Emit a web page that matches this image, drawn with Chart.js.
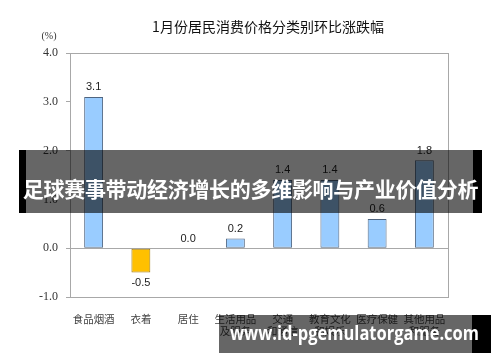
<!DOCTYPE html>
<html lang="zh">
<head>
  <meta charset="UTF-8" />
  <title>1月份居民消费价格分类别环比涨跌幅</title>
  <script src="https://cdn.jsdelivr.net/npm/chart.js"></script>
  <style>
    html, body { margin: 0; padding: 0; background: #fff; }
    #wrap { position: relative; width: 500px; height: 362px; overflow: hidden; }
    .banner { position: absolute; color: #fff; font-weight: bold; white-space: nowrap; text-align: center; }
    #banner-main {
      left: 19px; top: 150px; width: 463px; height: 63px; line-height: 76px;
      font-family: "Noto Sans CJK SC", sans-serif; font-size: 21px; letter-spacing: -0.3px;
      background: linear-gradient(to right, #000 0, #000 7px, rgba(0,0,0,0.6) 7px, rgba(0,0,0,0.6) 454px, #000 454px);
    }
    #banner-site {
      left: 219px; top: 315px; width: 272px; height: 38px; line-height: 36px;
      font-family: "Open Sans", "DejaVu Sans", sans-serif; font-size: 19px;
      text-align: left; padding-left: 11px; box-sizing: border-box;
      background: linear-gradient(to right, rgba(0,0,0,0.6) 0, rgba(0,0,0,0.6) 253px, #000 253px);
    }
    #banner-site span { display: inline-block; transform-origin: left center; }
  </style>
</head>
<body>
  <div id="wrap">
    <canvas id="chart" width="500" height="362"></canvas>
    <div class="banner" id="banner-main">足球赛事带动经济增长的多维影响与产业价值分析</div>
    <div class="banner" id="banner-site"><span>www.id-pgemulatorgame.com</span></div>
  </div>
  <script>
    const categories = [
      '食品烟酒', '衣着', '居住', ['生活用品', '及服务'], ['交通', '和通信'],
      ['教育文化', '和娱乐'], '医疗保健', ['其他用品', '和服务']
    ];
    const changes = [3.1, -0.5, 0.0, 0.2, 1.4, 1.4, 0.6, 1.8];
    const yTicks = [-1, 0, 1, 2, 3, 4];
    const chartTitle = '1月份居民消费价格分类别环比涨跌幅';
    const unitLabel = '(%)';

    // squeeze the site text so it spans the same width as in the picture
    const site = document.querySelector('#banner-site span');
    const w = site.getBoundingClientRect().width;
    site.style.transform = 'scaleX(' + (249 / w) + ')';

    const extras = {
      id: 'extras',
      beforeDatasetsDraw(chart) {
        const { ctx, chartArea: a, scales: { y } } = chart;
        ctx.save();
        ctx.strokeStyle = '#a8a8a8';
        ctx.lineWidth = 1;
        ctx.strokeRect(a.left + 0.5, a.top + 0.5, a.right - a.left, a.bottom - a.top);
        const y0 = Math.round(y.getPixelForValue(0)) + 0.5;
        ctx.beginPath();
        ctx.moveTo(a.left, y0);
        ctx.lineTo(a.right, y0);
        ctx.stroke();
        ctx.restore();
      },
      afterDatasetsDraw(chart) {
        const { ctx } = chart;
        const meta = chart.getDatasetMeta(0);
        ctx.save();
        ctx.fillStyle = '#222';
        ctx.font = '11px "Liberation Sans", Arial, sans-serif';
        ctx.textAlign = 'center';
        meta.data.forEach((bar, i) => {
          const v = changes[i];
          if (v < 0) {
            ctx.textBaseline = 'top';
            ctx.fillText(v.toFixed(1), bar.x, bar.y + 5);
          } else {
            ctx.textBaseline = 'bottom';
            ctx.fillText(v.toFixed(1), bar.x, bar.y - 4);
          }
        });
        // title and unit
        ctx.fillStyle = '#111';
        ctx.font = '14px "Noto Sans CJK SC", sans-serif';
        ctx.textBaseline = 'middle';
        ctx.fillText(chartTitle, 268, 27);
        ctx.fillStyle = '#333';
        ctx.font = '10px "Liberation Serif", serif';
        ctx.fillText(unitLabel, 49, 36);
        ctx.restore();
      }
    };

    new Chart(document.getElementById('chart'), {
      type: 'bar',
      data: {
        labels: categories,
        datasets: [{
          data: changes,
          backgroundColor: changes.map(v => v < 0 ? '#FFC000' : '#99CCFF'),
          borderColor: changes.map(v => v < 0 ? '#a07a10' : '#4f6580'),
          borderWidth: 1,
          borderSkipped: false,
          categoryPercentage: 1,
          barPercentage: 0.4
        }]
      },
      options: {
        responsive: false,
        animation: false,
        layout: { padding: { top: 53, right: 52, bottom: 4, left: 0 } },
        plugins: { legend: { display: false }, tooltip: { enabled: false } },
        scales: {
          x: {
            grid: { display: false },
            border: { display: false },
            ticks: {
              autoSkip: false, maxRotation: 0, padding: 8,
              color: '#444',
              font: { family: '"Noto Sans CJK SC", sans-serif', size: 10.5, lineHeight: 1.15 }
            },
            afterFit(s) { s.height = 61; }
          },
          y: {
            min: -1, max: 4,
            afterBuildTicks(s) { s.ticks = yTicks.map(v => ({ value: v })); },
            grid: { drawOnChartArea: false, tickLength: 4, color: '#a8a8a8' },
            border: { display: false },
            ticks: {
              padding: 8, color: '#333',
              font: { family: '"Liberation Serif", serif', size: 12 },
              callback: v => v.toFixed(1)
            },
            afterFit(s) { s.width = 70; }
          }
        }
      },
      plugins: [extras]
    });
  </script>
</body>
</html>
